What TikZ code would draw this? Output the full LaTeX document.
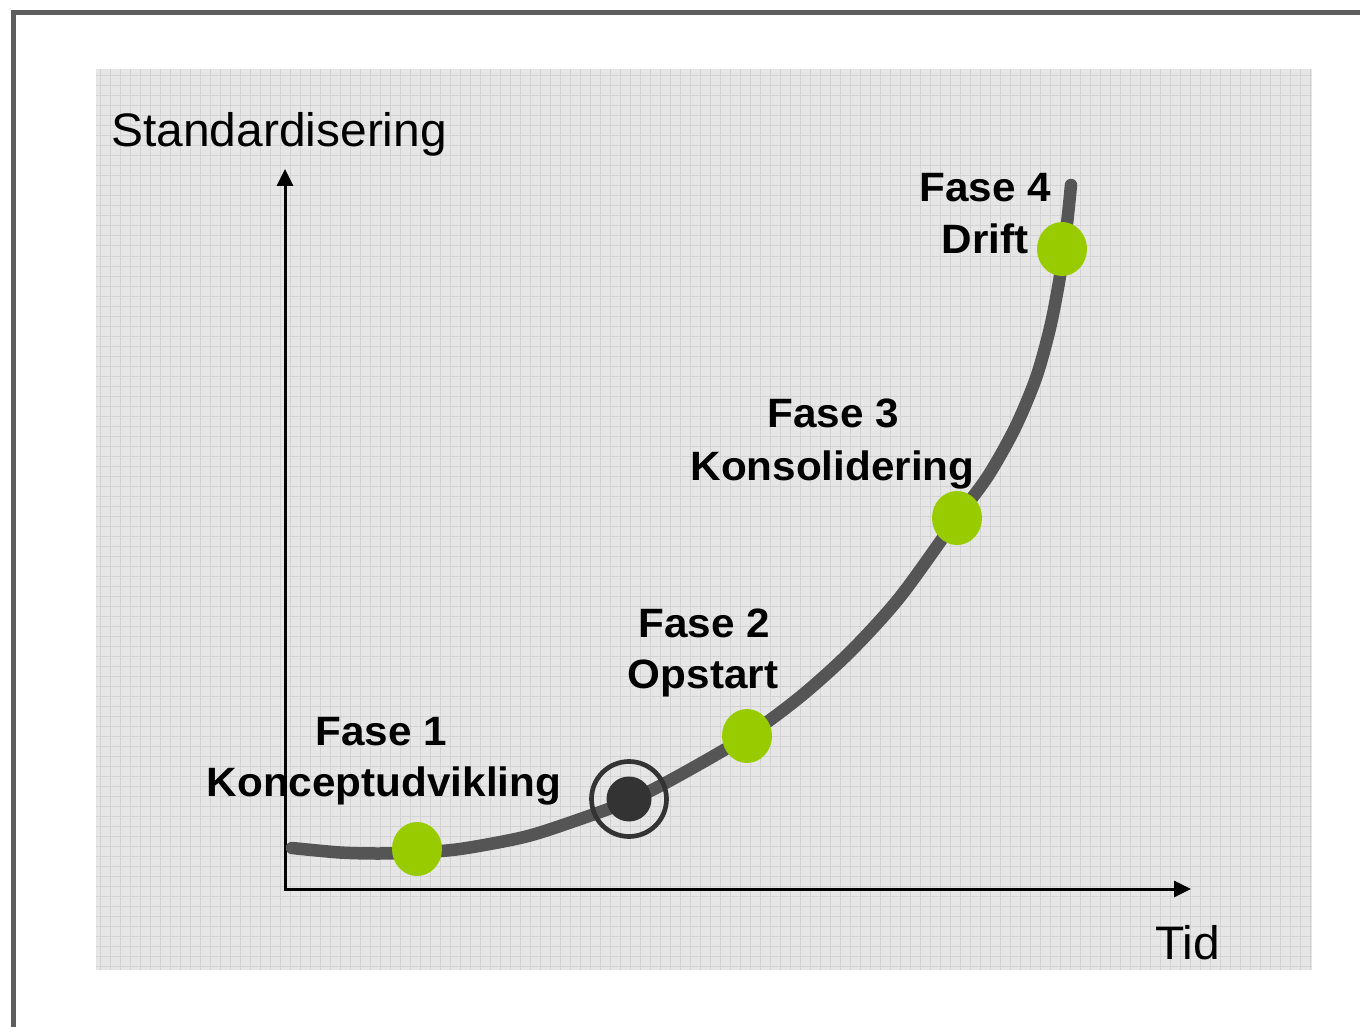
\documentclass[tikz,border=0pt]{standalone}
\usepackage{fontspec}
\setmainfont{Liberation Sans}
\usetikzlibrary{arrows.meta,shapes.geometric}
\definecolor{framec}{HTML}{5E5E5E}
\definecolor{panelc}{HTML}{E6E6E6}
\definecolor{gridc}{HTML}{D3D3D3}
\definecolor{curvec}{HTML}{555555}
\definecolor{limec}{HTML}{99CC00}
\definecolor{darkc}{HTML}{333333}
\newcommand{\wideph}[1]{\scalebox{1.03}[1]{#1}}
\newcommand{\wideax}[1]{\scalebox{1.02}[1]{#1}}
\begin{document}
\begin{tikzpicture}[x=1pt,y=-1pt,
  axislabel/.style={font=\fontsize{47}{56}\selectfont, inner sep=0pt, anchor=base west},
  phase/.style={font=\fontsize{41}{49}\selectfont\bfseries, inner sep=0pt, anchor=base},
  axisline/.style={line width=3pt, black, {Triangle[length=17pt,width=16pt]}-{Triangle[length=17pt,width=16pt]}},
  greendot/.style={ellipse, fill=limec, inner sep=0pt, minimum width=50pt, minimum height=54pt},
  curveline/.style={curvec, line width=12.5pt, line cap=round, line join=round}]
\useasboundingbox (0,0) rectangle (1360,1027);
\clip (0,0) rectangle (1360,1027);
\fill[white] (0,0) rectangle (1360,1027);
% outer frame
\draw[framec, line width=5.5pt] (13.5,1100) -- (13.5,12.5) -- (1400,12.5);
% panel
\fill[panelc] (96,69) rectangle (1312,970);
\foreach \gx in {100,110,...,1310} \draw[gridc, line width=1pt] (\gx,69) -- (\gx,970);
\foreach \gy in {76,86,...,966} \draw[gridc, line width=1pt] (96,\gy) -- (1312,\gy);
% axes
\coordinate (ytip) at (285,169);
\coordinate (xtip) at (1191,889);
\draw[axisline] (ytip) |- (xtip);
% curve
\draw[curveline] plot[smooth, tension=0.5] coordinates {
  (292,848) (340,852.5) (378,853.5) (417,852.5) (460,849) (520,838) (560,826)
  (629,801) (680,775) (747,736) (800,697) (850,652) (900,597) (957,518)
  (988,476) (1015,428) (1036,378) (1050,328) (1059,282) (1065,240) (1068.5,210) (1071,185)};
% dots
\node[greendot] (p1) at (417,849) {};
\node[greendot] (p2) at (747,736) {};
\node[greendot] (p3) at (957,518) {};
\node[greendot] (p4) at (1062,249) {};
\node[circle, fill=darkc, inner sep=0pt, minimum size=45pt] (now) at (629,799) {};
\node[circle, draw=darkc, line width=4.7pt, inner sep=0pt, minimum size=75pt] (nowring) at (629,799) {};
% labels
\node[axislabel] (ylab) at (111,146.7) {\wideax{Standardisering}};
\node[axislabel] (xlab) at (1155,959) {\wideax{Tid}};
\node[phase] (f1a) at (381,745) {\wideph{Fase 1}};
\node[phase] (f1b) at (384,796.7) {\wideph{Konceptudvikling}};
\node[phase] (f2a) at (704,637) {\wideph{Fase 2}};
\node[phase] (f2b) at (703,688) {\wideph{Opstart}};
\node[phase] (f3a) at (833,427) {\wideph{Fase 3}};
\node[phase] (f3b) at (832.5,480) {\wideph{Konsolidering}};
\node[phase] (f4a) at (985,202) {\wideph{Fase 4}};
\node[phase] (f4b) at (985,253) {\wideph{Drift}};
\end{tikzpicture}
\end{document}
